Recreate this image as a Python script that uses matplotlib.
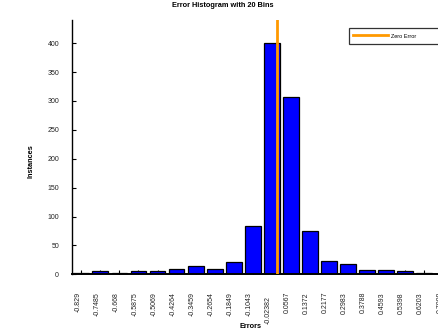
import matplotlib
matplotlib.use('Agg')
import matplotlib.pyplot as plt
from matplotlib.transforms import ScaledTranslation

plt.rcParams['font.family'] = ['Liberation Sans', 'DejaVu Sans']

# bin centres (as printed on the x axis) and counts per bin
bin_labels = ['-0.829', '-0.7485', '-0.668', '-0.5875', '-0.5069', '-0.4264',
              '-0.3459', '-0.2654', '-0.1849', '-0.1043', '-0.02382', '0.0567',
              '0.1372', '0.2177', '0.2983', '0.3788', '0.4593', '0.5398',
              '0.6203', '0.7008']
bin_centers = [float(s) for s in bin_labels]
counts = [2, 5, 3, 5, 6, 9, 14, 10, 22, 83, 400, 306, 75, 23, 17, 7, 7, 5, 3, 1]
zero_error = 0.0

step = (bin_centers[-1] - bin_centers[0]) / (len(bin_centers) - 1)

fig = plt.figure(figsize=(4.39, 3.30), dpi=100)
ax = fig.add_axes([72.3/439, 1 - 274.3/330, 380/439, 254.3/330])

ax.bar(bin_centers, counts, width=0.83*step, color='#0000ff',
       edgecolor='black', linewidth=0.9, zorder=2)
ax.axvline(zero_error, color='#ff9900', linewidth=2.0, zorder=3,
           label='Zero Error')

ax.set_xlim(bin_centers[0] - 0.475*step, bin_centers[-1] + 0.475*step)
ax.set_ylim(0, max(counts)*1.1)

ax.set_xticks(bin_centers)
ax.set_xticklabels(bin_labels, rotation=90, ha='right')
ax.set_yticks(range(0, 401, 50))

ax.tick_params(axis='both', direction='in', length=3, width=0.8,
               labelsize=5, labelcolor='#222222')
ax.tick_params(axis='x', pad=12.7)
ax.tick_params(axis='y', pad=9.5)

for side in ['top', 'right']:
    ax.spines[side].set_visible(False)
ax.spines['left'].set_linewidth(1.0)
ax.spines['bottom'].set_linewidth(1.4)

# the centre-bin label sits a little lower than the others
lab = ax.get_xticklabels()[10]
lab.set_transform(lab.get_transform() + ScaledTranslation(0, -4/100, fig.dpi_scale_trans))

fig.text(223/439, 1 - 5.3/330, 'Error Histogram with 20 Bins', ha='center',
         va='center', fontsize=5.3, fontweight='bold')
fig.text(31/439, 1 - 161/330, 'Instances', ha='center', va='center',
         rotation=90, fontsize=5.3, fontweight='bold')
fig.text(251/439, 1 - 326.5/330, 'Errors', ha='center', va='center',
         fontsize=5.3, fontweight='bold')

leg = ax.legend(loc='upper left', mode='expand',
                bbox_to_anchor=(349.3/439, 1 - 47/330, 130/439, 19/330),
                bbox_transform=fig.transFigure, fontsize=4, frameon=True,
                fancybox=False, handlelength=6.2, handletextpad=0.55,
                borderpad=0.75, handleheight=1.8, borderaxespad=0)
leg.get_frame().set_edgecolor('black')
leg.get_frame().set_linewidth(0.9)

fig.savefig('out.png', dpi=100)
